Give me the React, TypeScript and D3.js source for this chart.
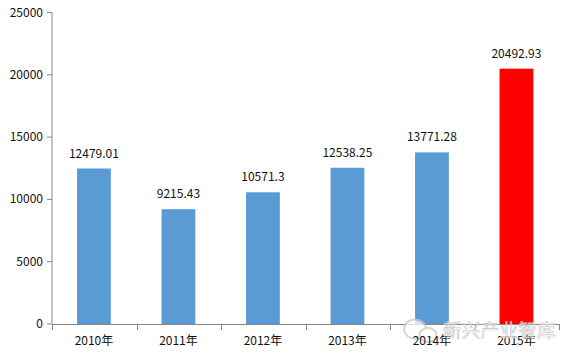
import React from "react";
import * as d3 from "d3";

const categories = ["2010年", "2011年", "2012年", "2013年", "2014年", "2015年"];
const values = [12479.01, 9215.43, 10571.3, 12538.25, 13771.28, 20492.93];
const valueLabels = ["12479.01", "9215.43", "10571.3", "12538.25", "13771.28", "20492.93"];
const barColors = ["#5b9bd5", "#5b9bd5", "#5b9bd5", "#5b9bd5", "#5b9bd5", "#ff0000"];
const yTicks = [0, 5000, 10000, 15000, 20000, 25000];

const FONT = "'Noto Sans CJK SC','Open Sans',sans-serif";
const AXIS = "#868686";

export default function App() {
  const x = d3.scaleBand<string>().domain(categories).range([51.7, 558.7]).paddingInner(0).paddingOuter(0);
  const y = d3.scaleLinear().domain([0, 25000]).range([324, 12.5]);
  const barW = x.bandwidth() * 0.4;
  const y0 = y(0);
  return (
    <svg width={584} height={355} style={{ position: "fixed", left: 0, top: 0, background: "#fff" }} fontFamily={FONT}>
      {categories.map((c, i) => {
        const cx = x(c)! + x.bandwidth() / 2;
        return (
          <g key={c}>
            <rect x={cx - barW / 2} y={y(values[i])} width={barW} height={y0 - y(values[i])} fill={barColors[i]} />
            <text x={cx} y={y(values[i]) - 11} textAnchor="middle" fontSize={12} fill="#111">{valueLabels[i]}</text>
          </g>
        );
      })}
      <path d={`M52,${y(25000)}V${y0}`} stroke={AXIS} strokeWidth={1} fill="none" />
      <path d={`M52,${y0 + 0.5}H559`} stroke={AXIS} strokeWidth={1} fill="none" />
      {yTicks.map((t) => (
        <g key={t}>
          <path d={`M47,${y(t)}H52`} stroke={AXIS} strokeWidth={1} />
          <text x={43} y={y(t) + 4} textAnchor="end" fontSize={12} fill="#111">{t}</text>
        </g>
      ))}
      {[0, 1, 2, 3, 4, 5, 6].map((k) => (
        <path key={k} d={`M${Math.round(52 + k * x.step()) + 0.5},${y0}v6`} stroke={AXIS} strokeWidth={1} />
      ))}
      <g opacity={0.75}>
        <ellipse cx={415} cy={329} rx={11} ry={9.5} fill="#fff" stroke="#c9c9c9" strokeWidth={2} />
        <ellipse cx={428} cy={335} rx={8.5} ry={7} fill="#fff" stroke="#c9c9c9" strokeWidth={2} />
      </g>
      {categories.map((c) => (
        <text key={c} x={x(c)! + x.bandwidth() / 2} y={345} textAnchor="middle" fontSize={12} fill="#111">{c}</text>
      ))}
      <text x={443} y={337} fontSize={18.5} fill="#fff" fillOpacity={0.6} stroke="#c4c4c4" strokeWidth={0.6} style={{ letterSpacing: "0.3px" }}>新兴产业智库</text>
    </svg>
  );
}
